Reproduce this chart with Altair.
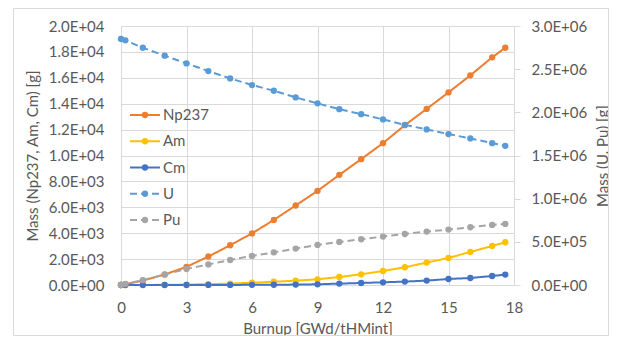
import altair as alt
import pandas as pd

burnup = [0, 0.2, 1, 2, 3, 4, 5, 6, 7, 8, 9, 10, 11, 12, 13, 14, 15, 16, 17, 17.6]
np237 = [0, 60, 340, 815, 1400, 2200, 3070, 3985, 5025, 6138, 7267, 8504, 9718, 10955, 12340, 13600, 14874, 16188, 17580, 18322]
am = [0, 0, 4, 15, 35, 65, 110, 175, 250, 335, 441, 619, 827, 1082, 1368, 1732, 2087, 2551, 3015, 3301]
cm = [0, 0, 0, 1, 2, 4, 7, 12, 20, 32, 54, 108, 155, 209, 263, 340, 464, 541, 696, 804]
u = [2849000, 2834000, 2748000, 2656000, 2567000, 2478000, 2393000, 2316000, 2250000, 2173000,
     2104000, 2037000, 1979000, 1918000, 1855000, 1802000, 1748000, 1698000, 1643000, 1612000]
pu = [0, 12000, 56000, 120000, 185500, 238000, 290000, 337000, 377000, 422000,
      464000, 499000, 530000, 561000, 591000, 619000, 642000, 669000, 696000, 707000]

series = ["Np237", "Am", "Cm", "U", "Pu"]
colors = ["#ED7D31", "#FFC000", "#4472C4", "#5B9BD5", "#A5A5A5"]
dashes = [[1, 0], [1, 0], [1, 0], [7, 4], [7, 4]]

left_ticks = list(range(0, 20001, 2000))
right_ticks = list(range(0, 3000001, 500000))
x_ticks = list(range(0, 19, 3))

def long(names, arrays):
    rows = []
    for n, arr in zip(names, arrays):
        for x, v in zip(burnup, arr):
            rows.append({"burnup": x, "mass": v, "series": n})
    return pd.DataFrame(rows)

df_left = long(["Np237", "Am", "Cm"], [np237, am, cm])
df_right = long(["U", "Pu"], [u, pu])
df_leg = pd.DataFrame({"series": series})

FONT = "Lato"
TXT = "#595959"
GRID = "#d9d9d9"

sci = ("datum.value == 0 ? '0.0E+00' : format(datum.value / pow(10, floor(log(datum.value)/LN10 + 1e-9)), '.1f')"
       " + 'E+' + (floor(log(datum.value)/LN10 + 1e-9) < 10 ? '0' : '') + floor(log(datum.value)/LN10 + 1e-9)")

color = alt.Color("series:N", scale=alt.Scale(domain=series, range=colors), legend=None)
dash = alt.StrokeDash("series:N", scale=alt.Scale(domain=series, range=dashes), legend=None)

xenc = alt.X("burnup:Q", scale=alt.Scale(domain=[0, 18], nice=False),
             axis=alt.Axis(values=x_ticks, title="Burnup [GWd/tHMint]", grid=True, gridColor=GRID,
                           domain=False, ticks=False, labelPadding=15, titlePadding=6))

left = alt.Chart(df_left).mark_line(strokeWidth=2, point=alt.OverlayMarkDef(size=40, filled=True, opacity=1)).encode(
    x=xenc,
    y=alt.Y("mass:Q", scale=alt.Scale(domain=[0, 20000], nice=False),
            axis=alt.Axis(values=left_ticks, labelExpr=sci, title="Mass (Np237, Am, Cm) [g]", grid=True,
                          gridColor=GRID, domain=False, ticks=False, labelPadding=17, titlePadding=8,
                          orient="left")),
    color=color, strokeDash=dash, detail="series:N")

right = alt.Chart(df_right).mark_line(strokeWidth=2, point=alt.OverlayMarkDef(size=40, filled=True, opacity=1)).encode(
    x=alt.X("burnup:Q", scale=alt.Scale(domain=[0, 18], nice=False)),
    y=alt.Y("mass:Q", scale=alt.Scale(domain=[0, 3000000], nice=False),
            axis=alt.Axis(values=right_ticks, labelExpr=sci, title="Mass (U, Pu) [g]", grid=False,
                          domain=True, domainColor=GRID, ticks=True, tickColor=GRID, tickSize=6,
                          labelPadding=11, orient="right", titleAngle=270,
                          titleX=88, titleY=129.5, titleAlign="center", titleBaseline="middle")),
    color=color, strokeDash=dash, detail="series:N")

ly = alt.Y("series:N", scale=alt.Scale(type="point", domain=series, range=[89, 194], padding=0), axis=None)
leg_line = alt.Chart(df_leg).mark_rule(strokeWidth=2).encode(
    x=alt.value(9), x2=alt.value(39), y=ly, color=color, strokeDash=dash)
leg_pt = alt.Chart(df_leg).mark_point(size=40, filled=True, opacity=1).encode(
    x=alt.value(24), y=ly, color=color)
leg_txt = alt.Chart(df_leg).mark_text(align="left", baseline="middle", font=FONT, fontSize=15, color=TXT).encode(
    x=alt.value(42), y=ly, text="series:N")
legend = alt.layer(leg_line, leg_pt, leg_txt)

frame = alt.Chart(pd.DataFrame({"a": [0]})).mark_rect(fill=None, stroke=GRID, strokeWidth=1).encode(
    x=alt.value(-107.5), x2=alt.value(487.5), y=alt.value(-17.5), y2=alt.value(309.5))

chart = alt.layer(frame, left, right, legend).resolve_scale(y="independent").properties(
    width=393, height=259,
    autosize=alt.AutoSizeParams(type="none"),
    padding={"left": 113, "top": 18, "right": 95, "bottom": 51},
).configure_view(stroke=None).configure_axis(
    labelFont=FONT, labelFontSize=15, labelColor=TXT, labelFlush=False,
    titleFont=FONT, titleFontSize=15, titleColor=TXT, titleFontWeight="normal",
)

chart.save("out.html", embed_options={"renderer": "svg", "actions": False})
